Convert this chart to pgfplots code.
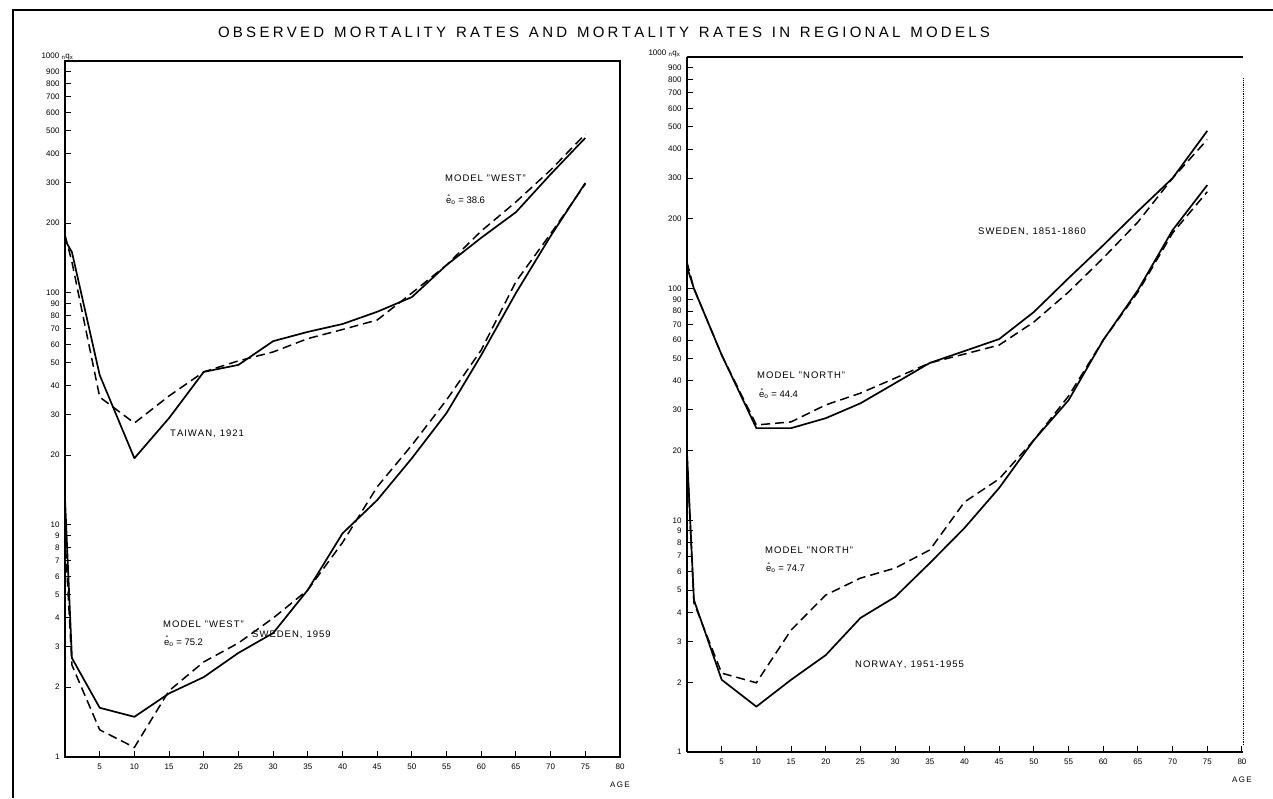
\documentclass[border=0pt]{standalone}
\usepackage{pgfplots}
\pgfplotsset{compat=1.18}
\usepackage{fontspec}
\setmainfont{Liberation Sans}

\makeatletter
% stretchable letter spacing (title)
\def\LS#1{\LS@a#1\relax}
\def\LS@a#1{#1\futurelet\LS@next\LS@b}
\def\LS@b{\ifx\LS@next\relax\expandafter\LS@end\else\expandafter\LS@gap\fi}
\def\LS@gap{\hskip0pt plus1fil\relax\LS@a}
\def\LS@end\relax{}
% fixed letter spacing (annotations)
\newdimen\lsk \lsk=1pt
\def\LK#1{\LK@a#1\relax}
\def\LK@a#1{#1\futurelet\LK@next\LK@b}
\def\LK@b{\ifx\LK@next\relax\expandafter\LK@end\else\expandafter\LK@gap\fi}
\def\LK@gap{\kern\lsk\LK@a}
\def\LK@end\relax{}
\makeatother
\newcommand\WG{\hskip0pt plus3fil\relax}
\newcommand\SPC{\hskip4pt\relax}

\tikzset{
  obs/.style={black, line width=1.7pt, line join=round},
  mod/.style={black, line width=1.5pt, dash pattern=on 9pt off 5pt},
}

\begin{document}
\begin{tikzpicture}[x=1pt,y=1pt]
\useasboundingbox (0,0) rectangle (1273,798);
\draw[line width=2pt] (13,0) -- (13,788) -- (1273,788);

\node[font=\fontsize{15}{18}\selectfont] at (604,766) {\makebox[772pt][s]{\LS{OBSERVED}\WG\LS{MORTALITY}\WG\LS{RATES}\WG\LS{AND}\WG\LS{MORTALITY}\WG\LS{RATES}\WG\LS{IN}\WG\LS{REGIONAL}\WG\LS{MODELS}}};

% ---------------- left panel
\begin{axis}[scale only axis, anchor=south west, at={(65pt,41pt)}, width=555pt, height=696pt,
    ymode=log, log basis y=10, ymin=1, ymax=1000, xmin=0, xmax=80, clip=false,
    tick pos=left,
    axis line style={line width=1.3pt},
    tick style={line width=1pt, black},
    major tick length=6pt,
    ytick={1,2,3,4,5,6,7,8,9,10,20,30,40,50,60,70,80,90,100,200,300,400,500,600,700,800,900},
    yticklabels={1,2,3,4,5,6,7,8,9,10,20,30,40,50,60,70,80,90,100,200,300,400,500,600,700,800,900},
    xtick={5,10,...,80},
    xticklabels={5,10,15,20,25,30,35,40,45,50,55,60,65,70,75,80},
    tick label style={font=\fontsize{8}{9}\selectfont},
    yticklabel style={xshift=-2pt},
    xticklabel style={yshift=-3pt}]
\addplot[obs] coordinates {(0,169) (1,150) (5,44.3) (10,19.4) (15,28.9) (20,45.7) (25,49) (30,62) (35,68) (40,73.5) (45,83) (50,96) (55,132) (60,173) (65,223) (70,325) (75,466)};
\addplot[mod] coordinates {(0,178) (1,136) (5,35.6) (10,27.5) (15,36) (20,45.7) (25,51) (30,55.7) (35,63.6) (40,69.6) (45,76.5) (50,100) (55,132) (60,185) (65,247) (70,339) (75,484)};
\addplot[obs] coordinates {(0,13) (1,2.67) (5,1.63) (10,1.49) (15,1.88) (20,2.21) (25,2.81) (30,3.42) (35,5.25) (40,9.2) (45,12.8) (50,19.4) (55,30.4) (60,54) (65,100) (70,176) (75,298)};
\addplot[mod] coordinates {(0,9) (1,2.49) (5,1.31) (10,1.1) (15,1.93) (20,2.57) (25,3.1) (30,3.97) (35,5.25) (40,8.4) (45,14.6) (50,22.1) (55,34.6) (60,56.8) (65,112) (70,180) (75,295)};
\node[font=\fontsize{8}{9}\selectfont] at (axis cs:80,1) [yshift=-28pt] {A\,G\,E};
\end{axis}

% ---------------- right panel
\begin{axis}[scale only axis, anchor=south west, at={(687pt,46pt)}, width=556pt, height=695pt,
    ymode=log, log basis y=10, ymin=1, ymax=1000, xmin=0, xmax=80.15, clip=false,
    axis x line*=bottom, axis y line*=left,
    axis line style={line width=1.3pt, -},
    tick style={line width=1pt, black},
    major tick length=6pt,
    ytick={1,2,3,4,5,6,7,8,9,10,20,30,40,50,60,70,80,90,100,200,300,400,500,600,700,800,900},
    yticklabels={1,2,3,4,5,6,7,8,9,10,20,30,40,50,60,70,80,90,100,200,300,400,500,600,700,800,900},
    xtick={5,10,...,80},
    xticklabels={5,10,15,20,25,30,35,40,45,50,55,60,65,70,75,80},
    tick label style={font=\fontsize{8}{9}\selectfont},
    yticklabel style={xshift=-2pt},
    xticklabel style={yshift=-3pt}]
\addplot[obs] coordinates {(0,124) (1,100) (5,51.7) (10,25) (15,25) (20,27.6) (25,32) (30,39.1) (35,47.8) (40,53.8) (45,60.6) (50,79.3) (55,111) (60,154) (65,216) (70,300) (75,480)};
\addplot[mod] coordinates {(0,130) (1,100) (5,51.7) (10,25.8) (15,26.6) (20,31.5) (25,35.4) (30,41.1) (35,47.8) (40,52.2) (45,57.1) (50,71.8) (55,96.7) (60,135.6) (65,194) (70,300) (75,440)};
\addplot[obs] coordinates {(0,19.5) (1,4.53) (5,2.05) (10,1.57) (15,2.05) (20,2.62) (25,3.79) (30,4.67) (35,6.54) (40,9.27) (45,13.8) (50,22.2) (55,33) (60,60) (65,98.6) (70,179) (75,280)};
\addplot[mod] coordinates {(0,19) (1,4.4) (5,2.19) (10,1.99) (15,3.36) (20,4.76) (25,5.63) (30,6.22) (35,7.45) (40,12) (45,15.1) (50,22.2) (55,34.4) (60,60) (65,96.7) (70,174) (75,262)};
\draw[line width=1.3pt] (rel axis cs:0,1) -- (rel axis cs:1,1);
\draw[densely dotted, line width=0.8pt] (rel axis cs:1,0.01) -- (rel axis cs:1,0.97);
\node[font=\fontsize{8}{9}\selectfont] at (axis cs:80,1) [yshift=-28pt] {A\,G\,E};
\end{axis}

% ---------------- y-axis captions
\node[anchor=base west, font=\fontsize{8}{9}\selectfont] at (38,739) {1000\ \textsubscript{n}q\textsubscript{x}};
\node[anchor=base west, font=\fontsize{8}{9}\selectfont] at (645,742) {1000\ \textsubscript{n}q\textsubscript{x}};

% ---------------- annotations
\begin{scope}[every node/.style={anchor=base west, font=\fontsize{9.5}{11}\selectfont, inner sep=0pt}]
\node at (445,616) {\LK{MODEL}\SPC\LK{"WEST"}};
\node at (446,594) {\r{e}\textsubscript{o} = 38.6};
\node at (170,361) {\LK{TAIWAN,}\SPC\LK{1921}};
\node at (163,171) {\LK{MODEL}\SPC\LK{"WEST"}};
\node at (164,153) {\r{e}\textsubscript{o} = 75.2};
\node at (252,161) {\LK{SWEDEN,}\SPC\LK{1959}};
\node at (978,563) {\LK{SWEDEN,}\SPC\LK{1851-1860}};
\node at (757,419) {\LK{MODEL}\SPC\LK{"NORTH"}};
\node at (759,400) {\r{e}\textsubscript{o} = 44.4};
\node at (765,244) {\LK{MODEL}\SPC\LK{"NORTH"}};
\node at (766,226) {\r{e}\textsubscript{o} = 74.7};
\node at (855,131) {\LK{NORWAY,}\SPC\LK{1951-1955}};
\end{scope}
\end{tikzpicture}
\end{document}
